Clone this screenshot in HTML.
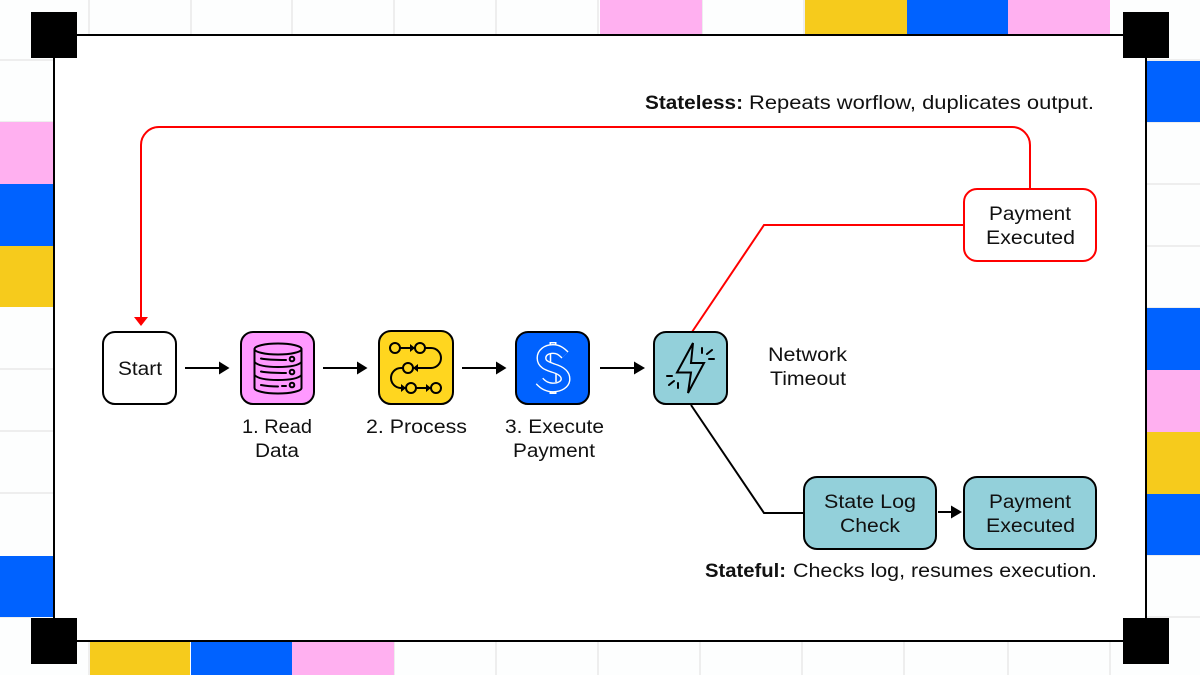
<!DOCTYPE html>
<html><head><meta charset="utf-8"><style>
html,body{margin:0;padding:0;background:#fff}
svg{display:block}
text{font-family:"Liberation Sans",sans-serif;font-size:19px;fill:#111}
.b{font-weight:bold}
</style></head><body>
<svg width="1200" height="675" viewBox="0 0 1200 675" xmlns="http://www.w3.org/2000/svg">
<rect width="1200" height="675" fill="#fdfefe"/>
<!-- background grid -->
<g stroke="#eeeeee" stroke-width="2" fill="none">
<path d="M89 0V34M191 0V34M292 0V34M394 0V34M496 0V34M598 0V34M702 0V34M804 0V34"/>
<path d="M89 642V675M394 642V675M496 642V675M598 642V675M700 642V675M802 642V675M904 642V675M1008 642V675M1110 642V675"/>
<path d="M0 60H53M0 122H53M0 369H53M0 431H53M0 493H53M0 617H31"/>
<path d="M1147 60H1200M1147 122H1200M1147 184H1200M1147 246H1200M1147 308H1200M1147 555H1200M1147 617H1200"/>
</g>
<!-- coloured cells -->
<rect x="600" y="0" width="102" height="34" fill="#ffb0f0"/>
<rect x="805" y="0" width="102" height="34" fill="#f6cb1c"/>
<rect x="907" y="0" width="101" height="34" fill="#0062ff"/>
<rect x="1008" y="0" width="102" height="34" fill="#ffb0f0"/>
<rect x="90" y="642" width="100" height="33" fill="#f6cb1c"/>
<rect x="191" y="642" width="101" height="33" fill="#0062ff"/>
<rect x="292" y="642" width="102" height="33" fill="#ffb0f0"/>
<rect x="0" y="122" width="53" height="62" fill="#ffb0f0"/>
<rect x="0" y="184" width="53" height="62" fill="#0062ff"/>
<rect x="0" y="246" width="53" height="61" fill="#f6cb1c"/>
<rect x="0" y="556" width="53" height="61" fill="#0062ff"/>
<rect x="1147" y="61" width="53" height="61" fill="#0062ff"/>
<rect x="1147" y="308" width="53" height="62" fill="#0062ff"/>
<rect x="1147" y="370" width="53" height="62" fill="#ffb0f0"/>
<rect x="1147" y="432" width="53" height="62" fill="#f6cb1c"/>
<rect x="1147" y="494" width="53" height="61" fill="#0062ff"/>
<!-- frame -->
<rect x="54" y="35" width="1092" height="606" fill="#fff" stroke="#000" stroke-width="2"/>
<rect x="31" y="12" width="46" height="46"/>
<rect x="1123" y="12" width="46" height="46"/>
<rect x="31" y="618" width="46" height="46"/>
<rect x="1123" y="618" width="46" height="46"/>
<!-- connectors -->
<g fill="none" stroke-width="2">
<path d="M1030 189V145A18 18 0 0 0 1012 127H159A18 18 0 0 0 141 145V318" stroke="#ff0000"/>
<path d="M692 332L764 225H964" stroke="#ff0000"/>
<path d="M691 405L764 513H804" stroke="#000"/>
<path d="M185 368H220M323 368H358M462 368H497M600 368H635M938 512H952" stroke="#000"/>
</g>
<path d="M134 317H148L141 326Z" fill="#ff0000"/>
<g fill="#000">
<path d="M219 361.500L229.500 368L219 374.500Z"/>
<path d="M357 361.500L367.500 368L357 374.500Z"/>
<path d="M496 361.500L506.500 368L496 374.500Z"/>
<path d="M634 361.500L645 368L634 374.500Z"/>
<path d="M951 505.500L962 512L951 518.500Z"/>
</g>
<!-- nodes -->
<g stroke="#000" stroke-width="2">
<rect x="103" y="332" width="73" height="72" rx="12" fill="#fff"/>
<rect x="241" y="332" width="73" height="72" rx="12" fill="#ff99ff"/>
<rect x="379" y="331" width="74" height="73" rx="12" fill="#ffd61f"/>
<rect x="516" y="332" width="73" height="72" rx="12" fill="#0062ff"/>
<rect x="654" y="332" width="73" height="72" rx="12" fill="#93d0da"/>
<rect x="804" y="477" width="132" height="72" rx="13" fill="#93d0da"/>
<rect x="964" y="477" width="132" height="72" rx="13" fill="#93d0da"/>
<rect x="964" y="189" width="132" height="72" rx="13" fill="#fff" stroke="#ff0000"/>
</g>
<!-- database icon -->
<g fill="none" stroke="#000" stroke-width="2" stroke-linecap="round">
<ellipse cx="278" cy="349" rx="23.500" ry="5.500"/>
<path d="M254.500 349V388C254.500 391 265 393.500 278 393.500S301.500 391 301.500 388V349"/>
<path d="M254.500 362C258 366 268 367 278 367S298 366 301.500 362"/>
<path d="M254.500 375C258 379 268 380 278 380S298 379 301.500 375"/>
<path d="M261 358.500C268 360 276 360 286 360M261 371.500C268 373 276 373 286 373M261 385C266 386 272 386.500 278 386.500M282 386H286"/>
<circle cx="292" cy="359" r="2.300"/><circle cx="292" cy="372" r="2.300"/><circle cx="292" cy="385" r="2.300"/>
</g>
<!-- process icon -->
<g fill="none" stroke="#000" stroke-width="2">
<circle cx="395" cy="348" r="5"/><circle cx="420" cy="348" r="5"/><circle cx="408" cy="368" r="5"/>
<circle cx="411" cy="388" r="5"/><circle cx="436" cy="388" r="5"/>
<path d="M400 348H415M425 348H431A10 10 0 0 1 431 368H413M403 368H401A10 10 0 0 0 401 388H406M416 388H431"/>
</g>
<g fill="#000">
<path d="M410 344L415 348L410 352Z"/><path d="M418 364L413 368L418 372Z"/>
<path d="M401 384L406 388L401 392Z"/><path d="M426 384L431 388L426 392Z"/>
</g>
<!-- dollar icon -->
<g fill="none" stroke-linecap="butt" stroke-linejoin="round">
<path d="M553 342V350M553 386V394" stroke="#fff" stroke-width="7"/>
<path d="M553 343.500V351M553 385V392.500" stroke="#0062ff" stroke-width="4"/>
<path d="M565 355C561 351 558 349 553 349C546 349 541.500 353 541.500 358C541.500 364 547 366 553 368C560 370 565.500 373 565.500 379C565.500 384 560 387.500 553 387.500C547 387.500 543 385 539.500 381" stroke="#fff" stroke-width="10"/>
<path d="M565 355C561 351 558 349 553 349C546 349 541.500 353 541.500 358C541.500 364 547 366 553 368C560 370 565.500 373 565.500 379C565.500 384 560 387.500 553 387.500C547 387.500 543 385 539.500 381" stroke="#0062ff" stroke-width="7.200"/>
<path d="M550.500 354V362M556 374V382" stroke="#fff" stroke-width="1.500"/>
</g>
<!-- bolt icon -->
<g fill="none" stroke="#000" stroke-width="2" stroke-linejoin="miter">
<path d="M693 343L677 372.500H691L688 393L704 363H691Z"/>
<path d="M702 348V353M707 354L712 350M709 359H714M667 376H672M669 385L674 381M678 383V388" stroke-linecap="round"/>
</g>
<!-- labels -->
<text class="b" x="645" y="109" textLength="98" lengthAdjust="spacingAndGlyphs">Stateless:</text>
<text x="749" y="109" textLength="345" lengthAdjust="spacingAndGlyphs">Repeats worflow, duplicates output.</text>
<text class="b" x="705" y="577" textLength="81" lengthAdjust="spacingAndGlyphs">Stateful:</text>
<text x="793" y="577" textLength="304" lengthAdjust="spacingAndGlyphs">Checks log, resumes execution.</text>
<text x="118" y="375" textLength="44" lengthAdjust="spacingAndGlyphs">Start</text>
<text x="242" y="433" textLength="70" lengthAdjust="spacingAndGlyphs">1. Read</text>
<text x="255" y="457" textLength="44" lengthAdjust="spacingAndGlyphs">Data</text>
<text x="366" y="433" textLength="101" lengthAdjust="spacingAndGlyphs">2. Process</text>
<text x="505" y="433" textLength="99" lengthAdjust="spacingAndGlyphs">3. Execute</text>
<text x="513" y="457" textLength="82" lengthAdjust="spacingAndGlyphs">Payment</text>
<text x="768" y="361" textLength="79" lengthAdjust="spacingAndGlyphs">Network</text>
<text x="770" y="385" textLength="76" lengthAdjust="spacingAndGlyphs">Timeout</text>
<text x="989" y="220" textLength="82" lengthAdjust="spacingAndGlyphs">Payment</text>
<text x="986" y="244" textLength="89" lengthAdjust="spacingAndGlyphs">Executed</text>
<text x="824" y="508" textLength="92" lengthAdjust="spacingAndGlyphs">State Log</text>
<text x="840" y="532" textLength="60" lengthAdjust="spacingAndGlyphs">Check</text>
<text x="989" y="508" textLength="82" lengthAdjust="spacingAndGlyphs">Payment</text>
<text x="986" y="532" textLength="89" lengthAdjust="spacingAndGlyphs">Executed</text>
</svg>
</body></html>
